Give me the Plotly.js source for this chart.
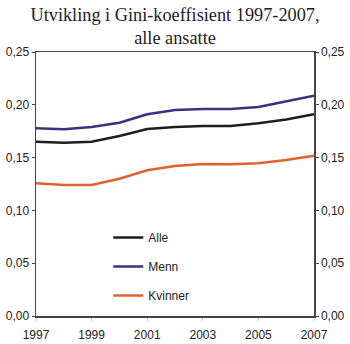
<!DOCTYPE html>
<html>
<head>
<meta charset="utf-8">
<script src="https://cdn.plot.ly/plotly-3.0.1.min.js"></script>
<style>html,body{margin:0;padding:0;background:#fff;}#chart{width:350px;height:344px;}</style>
</head>
<body>
<div id="chart"></div>
<script>
const years = [1997,1998,1999,2000,2001,2002,2003,2004,2005,2006,2007];
const alle = [0.165,0.164,0.165,0.1705,0.177,0.179,0.180,0.180,0.1825,0.186,0.191];
const menn = [0.1777,0.1768,0.179,0.183,0.191,0.195,0.196,0.196,0.198,0.203,0.2086];
const kvinner = [0.1257,0.124,0.124,0.130,0.138,0.142,0.144,0.1436,0.1446,0.1477,0.1518];
const yTicks = [0,0.05,0.10,0.15,0.20,0.25];
const yTickText = ["0,00","0,05","0,10","0,15","0,20","0,25"];
const xTicks = [1997,1999,2001,2003,2005,2007];

const traces = [
  {x: years, y: alle, name: "Alle", mode: "lines", line: {color: "#1e1e1e", width: 2.5}, legendgroup: "a"},
  {x: years, y: menn, name: "Menn", mode: "lines", line: {color: "#3d2f82", width: 2.5}, legendgroup: "m"},
  {x: years, y: kvinner, name: "Kvinner", mode: "lines", line: {color: "#e0622a", width: 2.5}, legendgroup: "k"},
  {x: years, y: alle, yaxis: "y2", mode: "lines", line: {color: "rgba(0,0,0,0)", width: 0}, showlegend: false, hoverinfo: "skip"}
];

const layout = {
  width: 350, height: 344,
  margin: {l: 36, r: 36, t: 52, b: 28},
  paper_bgcolor: "#fff", plot_bgcolor: "#fff",
  font: {family: "Liberation Sans, Arial, sans-serif", size: 12, color: "#222"},
  title: {
    text: "Utvikling i Gini-koeffisient 1997-2007,<br>alle ansatte",
    font: {family: "Liberation Serif, Times New Roman, serif", size: 18.3, color: "#222"},
    x: 0.5, xanchor: "center", yref: "container", y: 0.94, yanchor: "middle"
  },
  showlegend: true,
  legend: {
    x: 0.26, y: 0.352, xanchor: "left", yanchor: "top",
    bgcolor: "rgba(0,0,0,0)", tracegroupgap: 10,
    font: {family: "Liberation Sans, Arial, sans-serif", size: 12, color: "#222"}
  },
  xaxis: {
    range: [1997, 2007], tickvals: xTicks, ticktext: xTicks.map(String),
    showgrid: false, zeroline: false, showline: true, mirror: true,
    linecolor: "#444", linewidth: 1.5, ticks: "outside", ticklen: 3, tickcolor: "#ccc",
    ticklabelstandoff: 4,
    tickfont: {size: 12, color: "#222"}
  },
  yaxis: {
    range: [0, 0.25], tickvals: yTicks, ticktext: yTickText,
    showgrid: false, zeroline: false, showline: true,
    linecolor: "#444", linewidth: 1.5, ticks: "outside", ticklen: 3, tickcolor: "#444",
    tickfont: {size: 12, color: "#222"}
  },
  yaxis2: {
    range: [0, 0.25], tickvals: yTicks, ticktext: yTickText, overlaying: "y", side: "right",
    showgrid: false, zeroline: false, showline: true,
    linecolor: "#444", linewidth: 1.5, ticks: "outside", ticklen: 3, tickcolor: "#444",
    tickfont: {size: 12, color: "#222"}
  }
};

Plotly.newPlot("chart", traces, layout, {displayModeBar: false, staticPlot: true});
</script>
</body>
</html>
